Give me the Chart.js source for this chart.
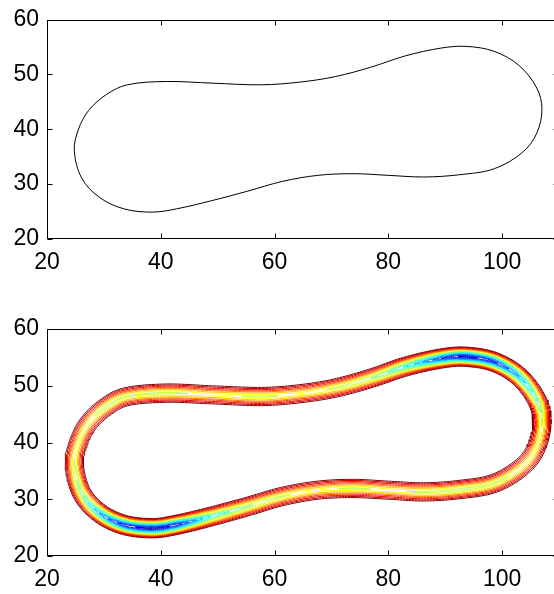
<!DOCTYPE html>
<html>
<head>
<meta charset="utf-8">
<script src="https://cdn.jsdelivr.net/npm/chart.js@4.4.1/dist/chart.umd.min.js"></script>
<style>
html, body { margin: 0; padding: 0; background: #fff; overflow: hidden; width: 554px; height: 594px; }
.panel { position: absolute; left: 0; width: 559px; height: 297px; }
</style>
</head>
<body>
<div class="panel" style="top:0"><canvas id="graficaCurva"></canvas></div>
<div class="panel" style="top:297px"><canvas id="graficaContorno"></canvas></div>
<script>
// outline, going round from the left end over the top and back along the bottom
const curveX = [24.8, 25.5, 27.3, 30.4, 34.1, 41.0, 49.0, 57.7, 64.5, 70.7, 76.9, 83.1,
                89.3, 93.7, 98.6, 103.0, 106.1, 107.0, 106.1, 103.6, 98.6, 92.4, 86.2, 80.0,
                73.8, 67.6, 61.4, 55.2, 49.0, 42.8, 38.5, 33.5, 29.2, 26.1];
const curveY = [36.1, 39.9, 43.4, 46.3, 48.1, 48.7, 48.4, 48.1, 48.6, 49.6, 51.3, 53.4,
                54.8, 55.1, 54.2, 51.6, 47.5, 43.7, 39.3, 35.8, 32.8, 31.7, 31.3, 31.6,
                31.9, 31.6, 30.5, 28.7, 27.0, 25.5, 24.9, 25.5, 27.6, 31.1];
// depth of the well along the outline (same points)
const wellDepth = [0.48, 0.44, 0.45, 0.50, 0.47, 0.50, 0.44, 0.49, 0.44, 0.48, 0.53, 0.66,
                   0.88, 0.97, 0.90, 0.76, 0.60, 0.48, 0.44, 0.45, 0.49, 0.50, 0.49, 0.45,
                   0.49, 0.44, 0.48, 0.54, 0.64, 0.93, 0.97, 0.92, 0.76, 0.57];
// contour levels, outermost first
const contourLevels = [0.06, 0.12, 0.18, 0.24, 0.29, 0.35, 0.41, 0.47,
                       0.53, 0.59, 0.65, 0.71, 0.76, 0.82, 0.88, 0.94];
const xTicks = [20, 40, 60, 80, 100];
const yTicks = [20, 30, 40, 50, 60];
const xMin = 20, xMax = 110, yMin = 20, yMax = 60;

// jet colours for the levels above, outermost first
const jetColors = ['#800000', '#bf0000', '#ff0000', '#ff4000', '#ff8000', '#ffbf00', '#ffff00', '#bfff40',
                   '#80ff80', '#40ffbf', '#00ffff', '#00bfff', '#0080ff', '#0040ff', '#0000ff', '#0000bf'];
const bandHalfWidth = 1.8;
const wallShape = 0.85;

function catmull(p0, p1, p2, p3, t) {
  const t2 = t * t, t3 = t2 * t;
  return 0.5 * (2 * p1 + (-p0 + p2) * t + (2 * p0 - 5 * p1 + 4 * p2 - p3) * t2 + (-p0 + 3 * p1 - 3 * p2 + p3) * t3);
}

// closed spline through the outline with a normal at every step
function outlineDense(steps) {
  const n = curveX.length, pts = [];
  for (let i = 0; i < n; i++) {
    const a = (i - 1 + n) % n, b = i, c = (i + 1) % n, d = (i + 2) % n;
    for (let s = 0; s < steps; s++) {
      const t = s / steps;
      pts.push({
        x: catmull(curveX[a], curveX[b], curveX[c], curveX[d], t),
        y: catmull(curveY[a], curveY[b], curveY[c], curveY[d], t),
        depth: wellDepth[b] + (wellDepth[c] - wellDepth[b]) * t
      });
    }
  }
  const m = pts.length;
  pts.forEach((p, j) => {
    const q0 = pts[(j - 1 + m) % m], q1 = pts[(j + 1) % m];
    const tx = q1.x - q0.x, ty = q1.y - q0.y, len = Math.hypot(tx, ty) || 1;
    p.nx = -ty / len;
    p.ny = tx / len;
  });
  return pts;
}

// one closed line per contour piece
function contourPaths() {
  const pts = outlineDense(12), m = pts.length, paths = [];
  contourLevels.forEach((c, k) => {
    const color = jetColors[k];
    const inside = pts.map(p => p.depth > c);
    const off = pts.map(p => p.depth > c ? bandHalfWidth * Math.pow(1 - c / p.depth, wallShape) : 0);
    const side = (j, sgn) => ({ x: pts[j].x + sgn * off[j] * pts[j].nx, y: pts[j].y + sgn * off[j] * pts[j].ny });

    if (inside.every(Boolean)) {
      [1, -1].forEach(sgn => {
        const line = pts.map((p, j) => side(j, sgn));
        line.push(line[0]);
        paths.push({ color, line });
      });
      return;
    }
    if (!inside.some(Boolean)) return;

    const edge = (i0, i1) => {
      const t = (c - pts[i0].depth) / (pts[i1].depth - pts[i0].depth);
      return { x: pts[i0].x + (pts[i1].x - pts[i0].x) * t, y: pts[i0].y + (pts[i1].y - pts[i0].y) * t };
    };
    const start = inside.indexOf(false);
    let j = 0;
    while (j < m) {
      if (!inside[(start + j) % m]) { j++; continue; }
      const run = [];
      while (j < m && inside[(start + j) % m]) { run.push((start + j) % m); j++; }
      const first = run[0], last = run[run.length - 1];
      const enter = edge((first - 1 + m) % m, first);
      const exit = edge(last, (last + 1) % m);
      const line = [enter, ...run.map(i => side(i, 1)), exit, ...run.slice().reverse().map(i => side(i, -1)), enter];
      paths.push({ color, line });
    }
  });
  return paths;
}

// box round the plot with inward ticks
const marcoEjes = {
  id: 'marcoEjes',
  afterDraw(chart) {
    const { ctx, chartArea: a, scales: { x, y } } = chart;
    const l = Math.round(a.left) + 0.5, r = Math.round(a.right) - 0.5;
    const t = Math.round(a.top) + 0.5, b = Math.round(a.bottom) - 0.5;
    ctx.save();
    ctx.strokeStyle = '#000';
    ctx.lineWidth = 1;
    ctx.strokeRect(l, t, r - l, b - t);
    ctx.beginPath();
    xTicks.forEach(v => {
      const px = Math.round(x.getPixelForValue(v)) + 0.5;
      ctx.moveTo(px, b); ctx.lineTo(px, b - 5);
      ctx.moveTo(px, t); ctx.lineTo(px, t + 5);
    });
    yTicks.forEach(v => {
      const py = Math.round(y.getPixelForValue(v)) + 0.5;
      ctx.moveTo(l, py); ctx.lineTo(l + 5, py);
      ctx.moveTo(r, py); ctx.lineTo(r - 5, py);
    });
    ctx.stroke();
    ctx.restore();
  }
};

function opcionesEjes(xHeight) {
  const fuente = { family: '"Liberation Sans", Arial, sans-serif', size: 23, lineHeight: 1 };
  return {
    x: {
      type: 'linear', min: xMin, max: xMax,
      grid: { display: false, drawTicks: false }, border: { display: false },
      ticks: { font: fuente, color: '#000', padding: 12, maxRotation: 0 },
      afterBuildTicks: s => { s.ticks = xTicks.map(v => ({ value: v })); },
      afterFit: s => { s.height = xHeight; }
    },
    y: {
      type: 'linear', min: yMin, max: yMax,
      grid: { display: false, drawTicks: false }, border: { display: false },
      ticks: { font: fuente, color: '#000', padding: 8 },
      afterBuildTicks: s => { s.ticks = yTicks.map(v => ({ value: v })); },
      afterFit: s => { s.width = 47; }
    }
  };
}

function opcionesBase(padTop, padBottom, xHeight) {
  return {
    responsive: true,
    maintainAspectRatio: false,
    animation: false,
    layout: { padding: { top: padTop, right: 0, bottom: padBottom, left: 0 } },
    plugins: { legend: { display: false }, tooltip: { enabled: false } },
    elements: { point: { radius: 0 } },
    scales: opcionesEjes(xHeight)
  };
}

// the outline is open in Chart.js, so it is wrapped one point on each side
// and the two wrapping segments are left undrawn
const n = curveX.length;
const curva = [{ x: curveX[n - 1], y: curveY[n - 1] }];
curveX.forEach((x, i) => curva.push({ x, y: curveY[i] }));
curva.push({ x: curveX[0], y: curveY[0] }, { x: curveX[1], y: curveY[1] });
const ultimo = curva.length - 1;

new Chart(document.getElementById('graficaCurva'), {
  type: 'line',
  data: {
    datasets: [{
      data: curva,
      borderColor: '#000',
      borderWidth: 1,
      tension: 0.35,
      fill: false,
      segment: {
        borderColor: ctx => (ctx.p0DataIndex === 0 || ctx.p1DataIndex === ultimo) ? 'rgba(0,0,0,0)' : '#000'
      }
    }]
  },
  options: opcionesBase(12, 18, 40),
  plugins: [marcoEjes]
});

new Chart(document.getElementById('graficaContorno'), {
  type: 'line',
  data: {
    datasets: contourPaths().map(p => ({
      data: p.line,
      borderColor: p.color,
      borderWidth: 1,
      tension: 0,
      fill: false
    }))
  },
  options: opcionesBase(32, 0, 38),
  plugins: [marcoEjes]
});
</script>
</body>
</html>
